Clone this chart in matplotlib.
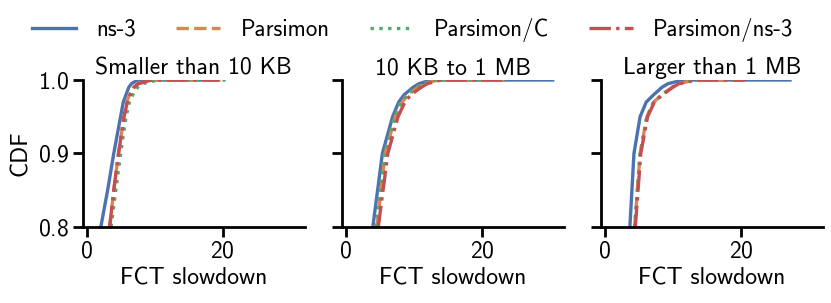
import matplotlib
matplotlib.use("Agg")
import matplotlib.pyplot as plt

plt.rcParams['font.family'] = ['cmss10', 'DejaVu Sans']
plt.rcParams['axes.formatter.use_mathtext'] = True
plt.rcParams['font.size'] = 17

# CDF levels shared by every curve
cdf_levels = [0.8, 0.85, 0.9, 0.95, 0.97, 0.98, 0.99, 0.995, 1.0, 1.0]

series = ["ns-3", "Parsimon", "Parsimon/C", "Parsimon/ns-3"]
colors = ["#4C72B0", "#DD8452", "#55A868", "#C44E52"]
styles = ["-", "--", ":", "-."]

titles = ["Smaller than 10 KB", "10 KB to 1 MB", "Larger than 1 MB"]

# FCT slowdown at each CDF level, one list per series
small_ns3 = [2.1, 3.1, 4.0, 5.0, 5.4, 5.8, 6.2, 6.6, 7.5, 19.3]
small_pars = [3.4, 4.0, 4.7, 5.5, 5.9, 6.3, 6.9, 7.5, 9.5, 19.7]
small_parsc = [3.6, 4.3, 5.0, 5.8, 6.3, 6.8, 7.5, 8.2, 10.5, 21.2]
small_parsns3 = [3.4, 4.0, 4.7, 5.5, 6.0, 6.4, 7.0, 7.6, 9.5, 19.5]

mid_ns3 = [4.0, 4.7, 5.4, 6.9, 7.8, 8.6, 9.9, 10.8, 12.5, 30.4]
mid_pars = [4.6, 5.2, 5.8, 7.3, 8.3, 9.2, 10.6, 11.5, 13.5, 23.4]
mid_parsc = [4.5, 5.1, 5.7, 7.2, 8.1, 9.0, 10.4, 11.3, 13.3, 23.4]
mid_parsns3 = [4.8, 5.5, 6.2, 7.7, 8.7, 9.6, 11.1, 12.0, 14.0, 23.4]

large_ns3 = [3.7, 4.0, 4.3, 5.2, 6.1, 7.2, 8.4, 9.3, 11.5, 27.2]
large_pars = [4.4, 4.8, 5.2, 6.2, 7.2, 8.4, 9.9, 10.8, 13.3, 20.6]
large_parsc = [4.4, 4.8, 5.2, 6.2, 7.2, 8.4, 9.9, 10.8, 13.3, 20.6]
large_parsns3 = [4.5, 4.9, 5.3, 6.3, 7.3, 8.5, 10.0, 10.9, 13.4, 20.6]

panels = [
    [small_ns3, small_pars, small_parsc, small_parsns3],
    [mid_ns3, mid_pars, mid_parsc, mid_parsns3],
    [large_ns3, large_pars, large_parsc, large_parsns3],
]

fig, axes = plt.subplots(1, 3, figsize=(8.31, 3.03), dpi=100, sharey=True)
plt.subplots_adjust(left=0.1, right=0.99, top=0.736, bottom=0.251, wspace=0.17)

for ax, title, curves in zip(axes, titles, panels):
    for xs, name, c, ls in zip(curves, series, colors, styles):
        ax.plot(xs, cdf_levels, color=c, linestyle=ls, linewidth=2.4, label=name)
    ax.set_title(title, fontsize=17, pad=4)
    ax.set_xlim(-0.5, 32)
    ax.set_ylim(0.8, 1.0)
    ax.set_xticks([0, 20])
    ax.set_yticks([0.8, 0.9, 1.0])
    ax.set_xlabel("FCT slowdown", labelpad=3)
    ax.spines['top'].set_visible(False)
    ax.spines['right'].set_visible(False)
    ax.spines['left'].set_linewidth(2)
    ax.spines['bottom'].set_linewidth(2)
    ax.tick_params(length=7, width=2, labelsize=17, pad=3)

axes[0].set_ylabel("CDF", labelpad=4)

handles, labels = axes[0].get_legend_handles_labels()
fig.legend(handles, labels, loc='upper center', bbox_to_anchor=(0.497, 1.01),
           ncol=4, frameon=False, handlelength=1.9, handletextpad=0.9,
           columnspacing=1.75, fontsize=16.5)

plt.savefig("out.png", dpi=100)
